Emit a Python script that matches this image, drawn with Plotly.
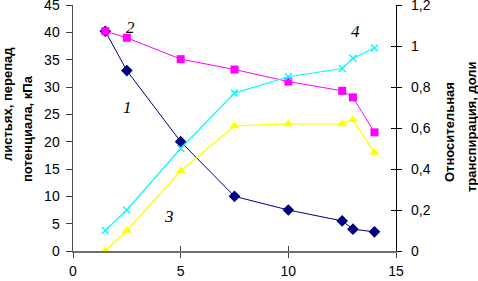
import plotly.graph_objects as go

x1 = [1.5, 2.5, 5, 7.5, 10, 12.5, 13, 14]
s1 = [40.2, 33.0, 20.0, 10.0, 7.5, 5.5, 4.0, 3.5]      # curve 1, kPa
s2 = [40.2, 39.0, 35.1, 33.2, 31.0, 29.3, 28.1, 21.7]  # curve 2, kPa
s3 = [0.0, 0.10, 0.39, 0.61, 0.62, 0.62, 0.64, 0.48]   # curve 3, fraction
s4 = [0.10, 0.20, 0.50, 0.77, 0.85, 0.89, 0.94, 0.99]  # curve 4, fraction
labels = ["1", "2", "3", "4"]
label_x = [2.55, 2.67, 4.46, 13.12]
label_y = [26.3, 40.8, 6.4, 40.2]

FONT = "Liberation Sans, Arial, sans-serif"
fig = go.Figure()
fig.add_trace(go.Scatter(x=x1, y=s1, mode="lines+markers", yaxis="y",
                         line=dict(color="#000080", width=1),
                         marker=dict(symbol="diamond", size=9, color="#000080")))
fig.add_trace(go.Scatter(x=x1, y=s2, mode="lines+markers", yaxis="y",
                         line=dict(color="#FF00FF", width=1),
                         marker=dict(symbol="square", size=8, color="#FF00FF")))
fig.add_trace(go.Scatter(x=x1, y=s3, mode="lines+markers", yaxis="y2",
                         line=dict(color="#FFFF00", width=1.2),
                         marker=dict(symbol="triangle-up", size=9, color="#FFFF00")))
fig.add_trace(go.Scatter(x=x1, y=s4, mode="lines+markers", yaxis="y2",
                         line=dict(color="#00FFFF", width=1.2),
                         marker=dict(symbol="x-thin", size=7,
                                     line=dict(color="#00FFFF", width=1.5))))

for t, xx, yy in zip(labels, label_x, label_y):
    fig.add_annotation(x=xx, y=yy, xref="x", yref="y", text=t, showarrow=False,
                       font=dict(family="Liberation Serif, Times New Roman, serif",
                                 size=17, style="italic", color="black"))

PW, PH = 323, 246
# axis titles
fig.add_annotation(xref="paper", yref="paper", x=(7 - 73) / PW, y=(251 - 104) / PH, xanchor="center",
                   yanchor="middle", text="<b>листьях, перепад</b>", textangle=-90,
                   showarrow=False, font=dict(family=FONT, size=13, color="black"))
fig.add_annotation(xref="paper", yref="paper", x=(27 - 73) / PW, y=(251 - 129) / PH, xanchor="center",
                   yanchor="middle", text="<b>потенциала, кПа</b>", textangle=-90,
                   showarrow=False, font=dict(family=FONT, size=13, color="black"))
fig.add_annotation(xref="paper", yref="paper", x=(449 - 73) / PW, y=(251 - 132) / PH, xanchor="center",
                   yanchor="middle", text="<b>Относительная</b>", textangle=-90,
                   showarrow=False, font=dict(family=FONT, size=13, color="black"))
fig.add_annotation(xref="paper", yref="paper", x=(471 - 73) / PW, y=(251 - 127) / PH, xanchor="center",
                   yanchor="middle", text="<b>транспирация, доли</b>", textangle=-90,
                   showarrow=False, font=dict(family=FONT, size=13, color="black"))

fig.update_layout(
    width=478, height=281,
    margin=dict(l=73, r=82, t=5, b=30, autoexpand=False),
    plot_bgcolor="white", paper_bgcolor="white",
    showlegend=False,
    separators=", ",
    font=dict(family=FONT, size=13, color="black"),
    xaxis=dict(range=[0, 15], dtick=5, showgrid=False, zeroline=False, automargin=False,
               showline=True, linecolor="#707070", linewidth=1.5,
               ticks="outside", ticklen=5, tickcolor="#404040", ticklabeloverflow="allow",
               tickfont=dict(size=14), ticklabelstandoff=2),
    xaxis2=dict(range=[0, 15], dtick=5, overlaying="x", side="bottom", showgrid=False,
                zeroline=False, showticklabels=False, ticks="inside", ticklen=5,
                tickcolor="#404040", automargin=False),
    yaxis=dict(range=[0, 45], dtick=5, showgrid=False, zeroline=False, automargin=False,
               showline=True, linecolor="#505050", linewidth=1.5, ticklabeloverflow="allow",
               ticks="outside", ticklen=6, tickcolor="#404040", ticklabelstandoff=3,
               tickfont=dict(size=14)),
    yaxis2=dict(range=[0, 1.2], dtick=0.2, overlaying="y", side="right", showgrid=False,
                zeroline=False, showline=True, linecolor="black", linewidth=1.2, automargin=False,
                ticks="outside", ticklen=5, tickcolor="black", ticklabelstandoff=6,
                ticklabeloverflow="allow", tickfont=dict(size=14)),
    yaxis3=dict(range=[0, 1.2], dtick=0.2, overlaying="y", side="right", showgrid=False,
                zeroline=False, showticklabels=False, ticks="inside", ticklen=5,
                tickcolor="black", automargin=False),
)
# helper trace activating the duplicate axes used for crossing tick marks
fig.add_trace(go.Scatter(x=[None], y=[None], xaxis="x2", yaxis="y3", showlegend=False,
                         hoverinfo="skip"))

fig.write_html("out.html", config={"displayModeBar": False, "staticPlot": True})

# remove the default page margin so the figure sits at the window's top-left corner
with open("out.html", encoding="utf-8") as f:
    html = f.read()
html = html.replace("<body>", '<body style="margin:0;overflow:hidden">', 1)
with open("out.html", "w", encoding="utf-8") as f:
    f.write(html)
